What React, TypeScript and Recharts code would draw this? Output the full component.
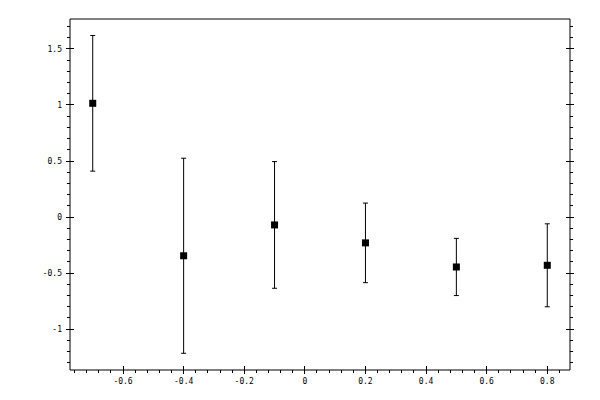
import { ScatterChart, Scatter, XAxis, YAxis, ErrorBar } from "recharts";

const xValues = [-0.7, -0.4, -0.1, 0.2, 0.5, 0.8];
const yValues = [1.015, -0.345, -0.07, -0.23, -0.445, -0.43];
const yErrors = [0.605, 0.87, 0.565, 0.355, 0.255, 0.37];

const xDomain = [-0.775, 0.875];
const yDomain = [-1.364, 1.767];
const xMajorStep = 0.2;
const xMinorStep = 0.04;
const yMajorStep = 0.5;
const yMinorStep = 0.1;

const data = xValues.map((x, i) => ({ x, y: yValues[i], err: yErrors[i] }));

const makeTicks = (lo: number, hi: number, step: number) => {
  const out: number[] = [];
  for (let v = Math.ceil(lo / step - 1e-9) * step; v <= hi + 1e-9; v += step) {
    out.push(Number(v.toFixed(4)));
  }
  return out;
};
const xTicks = makeTicks(xDomain[0], xDomain[1], xMinorStep);
const yTicks = makeTicks(yDomain[0], yDomain[1], yMinorStep);

const isMajor = (v: number, step: number) =>
  Math.abs(v - Math.round(v / step) * step) < 1e-6;
const fmt = (v: number) => String(Number(v.toFixed(2)));

const FONT = "'DejaVu Sans Mono', monospace";

const makeTick =
  (side: "bottom" | "top" | "left" | "right", step: number, label: boolean) =>
  (props: any) => {
    const { x, y, payload } = props;
    const v = payload.value as number;
    const major = isMajor(v, step);
    const out = major ? 4 : 3;
    const inn = major ? 4 : 0;
    let line;
    let text = null;
    if (side === "bottom") {
      line = <line x1={x} x2={x} y1={y - inn} y2={y + out} stroke="#000" />;
      if (label && major)
        text = (
          <text x={x} y={y + 14} textAnchor="middle" fontSize={8} fontFamily={FONT} fill="#000">
            {fmt(v)}
          </text>
        );
    } else if (side === "top") {
      line = <line x1={x} x2={x} y1={y - out} y2={y + inn} stroke="#000" />;
    } else if (side === "left") {
      line = <line x1={x - out} x2={x + inn} y1={y} y2={y} stroke="#000" />;
      if (label && major)
        text = (
          <text x={x - 8} y={y + 3} textAnchor="end" fontSize={8} fontFamily={FONT} fill="#000">
            {fmt(v)}
          </text>
        );
    } else {
      line = <line x1={x - inn} x2={x + out} y1={y} y2={y} stroke="#000" />;
    }
    return (
      <g shapeRendering="crispEdges">
        {line}
        {text}
      </g>
    );
  };

const Marker = (p: any) => (
  <rect x={p.cx - 3.5} y={p.cy - 3.5} width={7} height={7} fill="#000" />
);

export default function App() {
  return (
    <div style={{ width: 600, height: 400, background: "#fff" }}>
      <style>{"body{margin:0}"}</style>
      <ScatterChart width={600} height={400} margin={{ top: 0, right: 0, bottom: 0, left: 0 }}>
        <XAxis
          xAxisId="bottom"
          dataKey="x"
          type="number"
          orientation="bottom"
          domain={xDomain}
          ticks={xTicks}
          interval={0}
          height={30}
          tickSize={0}
          tickMargin={0}
          tickLine={false}
          axisLine={{ stroke: "#000" }}
          tick={makeTick("bottom", xMajorStep, true)}
          allowDataOverflow
        />
        <XAxis
          xAxisId="top"
          type="number"
          orientation="top"
          domain={xDomain}
          ticks={xTicks}
          interval={0}
          height={19}
          tickSize={0}
          tickMargin={0}
          tickLine={false}
          axisLine={{ stroke: "#000" }}
          tick={makeTick("top", xMajorStep, false)}
          allowDataOverflow
        />
        <YAxis
          yAxisId="left"
          dataKey="y"
          type="number"
          orientation="left"
          domain={yDomain}
          ticks={yTicks}
          interval={0}
          width={70}
          tickSize={0}
          tickMargin={0}
          tickLine={false}
          axisLine={{ stroke: "#000" }}
          tick={makeTick("left", yMajorStep, true)}
          allowDataOverflow
        />
        <YAxis
          yAxisId="right"
          type="number"
          orientation="right"
          domain={yDomain}
          ticks={yTicks}
          interval={0}
          width={30}
          tickSize={0}
          tickMargin={0}
          tickLine={false}
          axisLine={{ stroke: "#000" }}
          tick={makeTick("right", yMajorStep, false)}
          allowDataOverflow
        />
        <Scatter
          data={data}
          xAxisId="bottom"
          yAxisId="left"
          fill="#000"
          shape={Marker}
          isAnimationActive={false}
        >
          <ErrorBar dataKey="err" direction="y" width={2.5} stroke="#000" strokeWidth={1} />
        </Scatter>
      </ScatterChart>
    </div>
  );
}
